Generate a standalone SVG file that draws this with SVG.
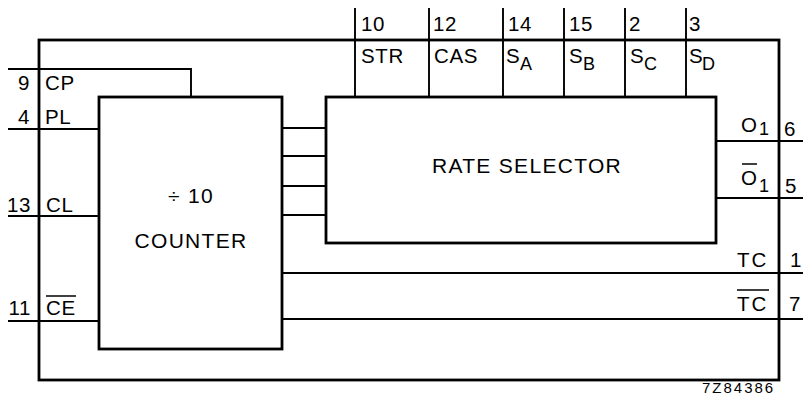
<svg xmlns="http://www.w3.org/2000/svg" width="803" height="396" viewBox="0 0 803 396">
<style>
.box{fill:none;stroke:#000;stroke-width:2.8;stroke-linejoin:miter}
.ln{fill:none;stroke:#000;stroke-width:1.9}
.t{font-family:"Liberation Sans",Arial,sans-serif;font-size:20.5px;fill:#000;letter-spacing:0.6px}
.s{font-size:18px}
.big{font-size:21px;letter-spacing:1.3px}
.ol{stroke:#000;stroke-width:1.5}
</style>
<rect width="803" height="396" fill="#fff"/>
<g id="chip">
<rect class="box" x="39" y="40" width="740" height="340"/>
</g>
<g id="counter">
<rect class="box" x="99" y="97" width="183" height="252"/>
<text class="t big" x="191" y="203" text-anchor="middle">÷ 10</text>
<text class="t big" x="191" y="248" text-anchor="middle">COUNTER</text>
</g>
<g id="rate-selector">
<rect class="box" x="326" y="97" width="390" height="146"/>
<text class="t big" x="527" y="173" text-anchor="middle">RATE SELECTOR</text>
</g>
<g id="connectors">
<polyline class="ln" points="8,69 191,69 191,97"/>
<line class="ln" x1="8" y1="129" x2="99" y2="129"/>
<line class="ln" x1="8" y1="216" x2="99" y2="216"/>
<line class="ln" x1="8" y1="321" x2="99" y2="321"/>
<line class="ln" x1="282" y1="128" x2="326" y2="128"/>
<line class="ln" x1="282" y1="156" x2="326" y2="156"/>
<line class="ln" x1="282" y1="186" x2="326" y2="186"/>
<line class="ln" x1="282" y1="215" x2="326" y2="215"/>
<line class="ln" x1="355" y1="8" x2="355" y2="97"/>
<line class="ln" x1="429" y1="8" x2="429" y2="97"/>
<line class="ln" x1="503" y1="8" x2="503" y2="97"/>
<line class="ln" x1="564" y1="8" x2="564" y2="97"/>
<line class="ln" x1="625" y1="8" x2="625" y2="97"/>
<line class="ln" x1="686" y1="8" x2="686" y2="97"/>
<line class="ln" x1="716" y1="141" x2="803" y2="141"/>
<line class="ln" x1="716" y1="198" x2="803" y2="198"/>
<line class="ln" x1="282" y1="273" x2="803" y2="273"/>
<line class="ln" x1="282" y1="319" x2="803" y2="319"/>
</g>
<g id="left-pins">
<text class="t" x="30" y="90" text-anchor="end">9</text>
<text class="t" x="45" y="90">CP</text>
<text class="t" x="30" y="124" text-anchor="end">4</text>
<text class="t" x="45" y="124">PL</text>
<text class="t" x="31" y="212" text-anchor="end">13</text>
<text class="t" x="46" y="212">CL</text>
<text class="t" x="31" y="315" text-anchor="end">11</text>
<text class="t" x="46" y="315">CE</text>
<line class="ol" x1="46" y1="296" x2="76" y2="296"/>
</g>
<g id="top-pins">
<text class="t" x="361" y="31">10</text>
<text class="t" x="361" y="63">STR</text>
<text class="t" x="433" y="31">12</text>
<text class="t" x="434" y="63">CAS</text>
<text class="t" x="508" y="31">14</text>
<text class="t" x="506" y="63">S<tspan class="s" x="520" y="70">A</tspan></text>
<text class="t" x="569" y="31">15</text>
<text class="t" x="569" y="63">S<tspan class="s" x="583" y="70">B</tspan></text>
<text class="t" x="629" y="31">2</text>
<text class="t" x="630" y="63">S<tspan class="s" x="644" y="70">C</tspan></text>
<text class="t" x="689" y="31">3</text>
<text class="t" x="689" y="63">S<tspan class="s" x="702" y="70">D</tspan></text>
</g>
<g id="right-pins">
<text class="t" x="741" y="132">O<tspan class="s" x="759" y="135">1</tspan></text>
<text class="t" x="784" y="136">6</text>
<text class="t" x="741" y="185">O<tspan class="s" x="759" y="192">1</tspan></text>
<line class="ol" x1="742" y1="164" x2="757" y2="164"/>
<text class="t" x="785" y="193">5</text>
<text class="t" x="737" y="267" style="letter-spacing:2px">TC</text>
<text class="t" x="790" y="267">1</text>
<text class="t" x="737" y="311" style="letter-spacing:2px">TC</text>
<line class="ol" x1="737" y1="290" x2="769" y2="290"/>
<text class="t" x="789" y="311">7</text>
</g>
<text class="t" x="702" y="393" style="font-size:15px;letter-spacing:2px">7Z84386</text>
</svg>
